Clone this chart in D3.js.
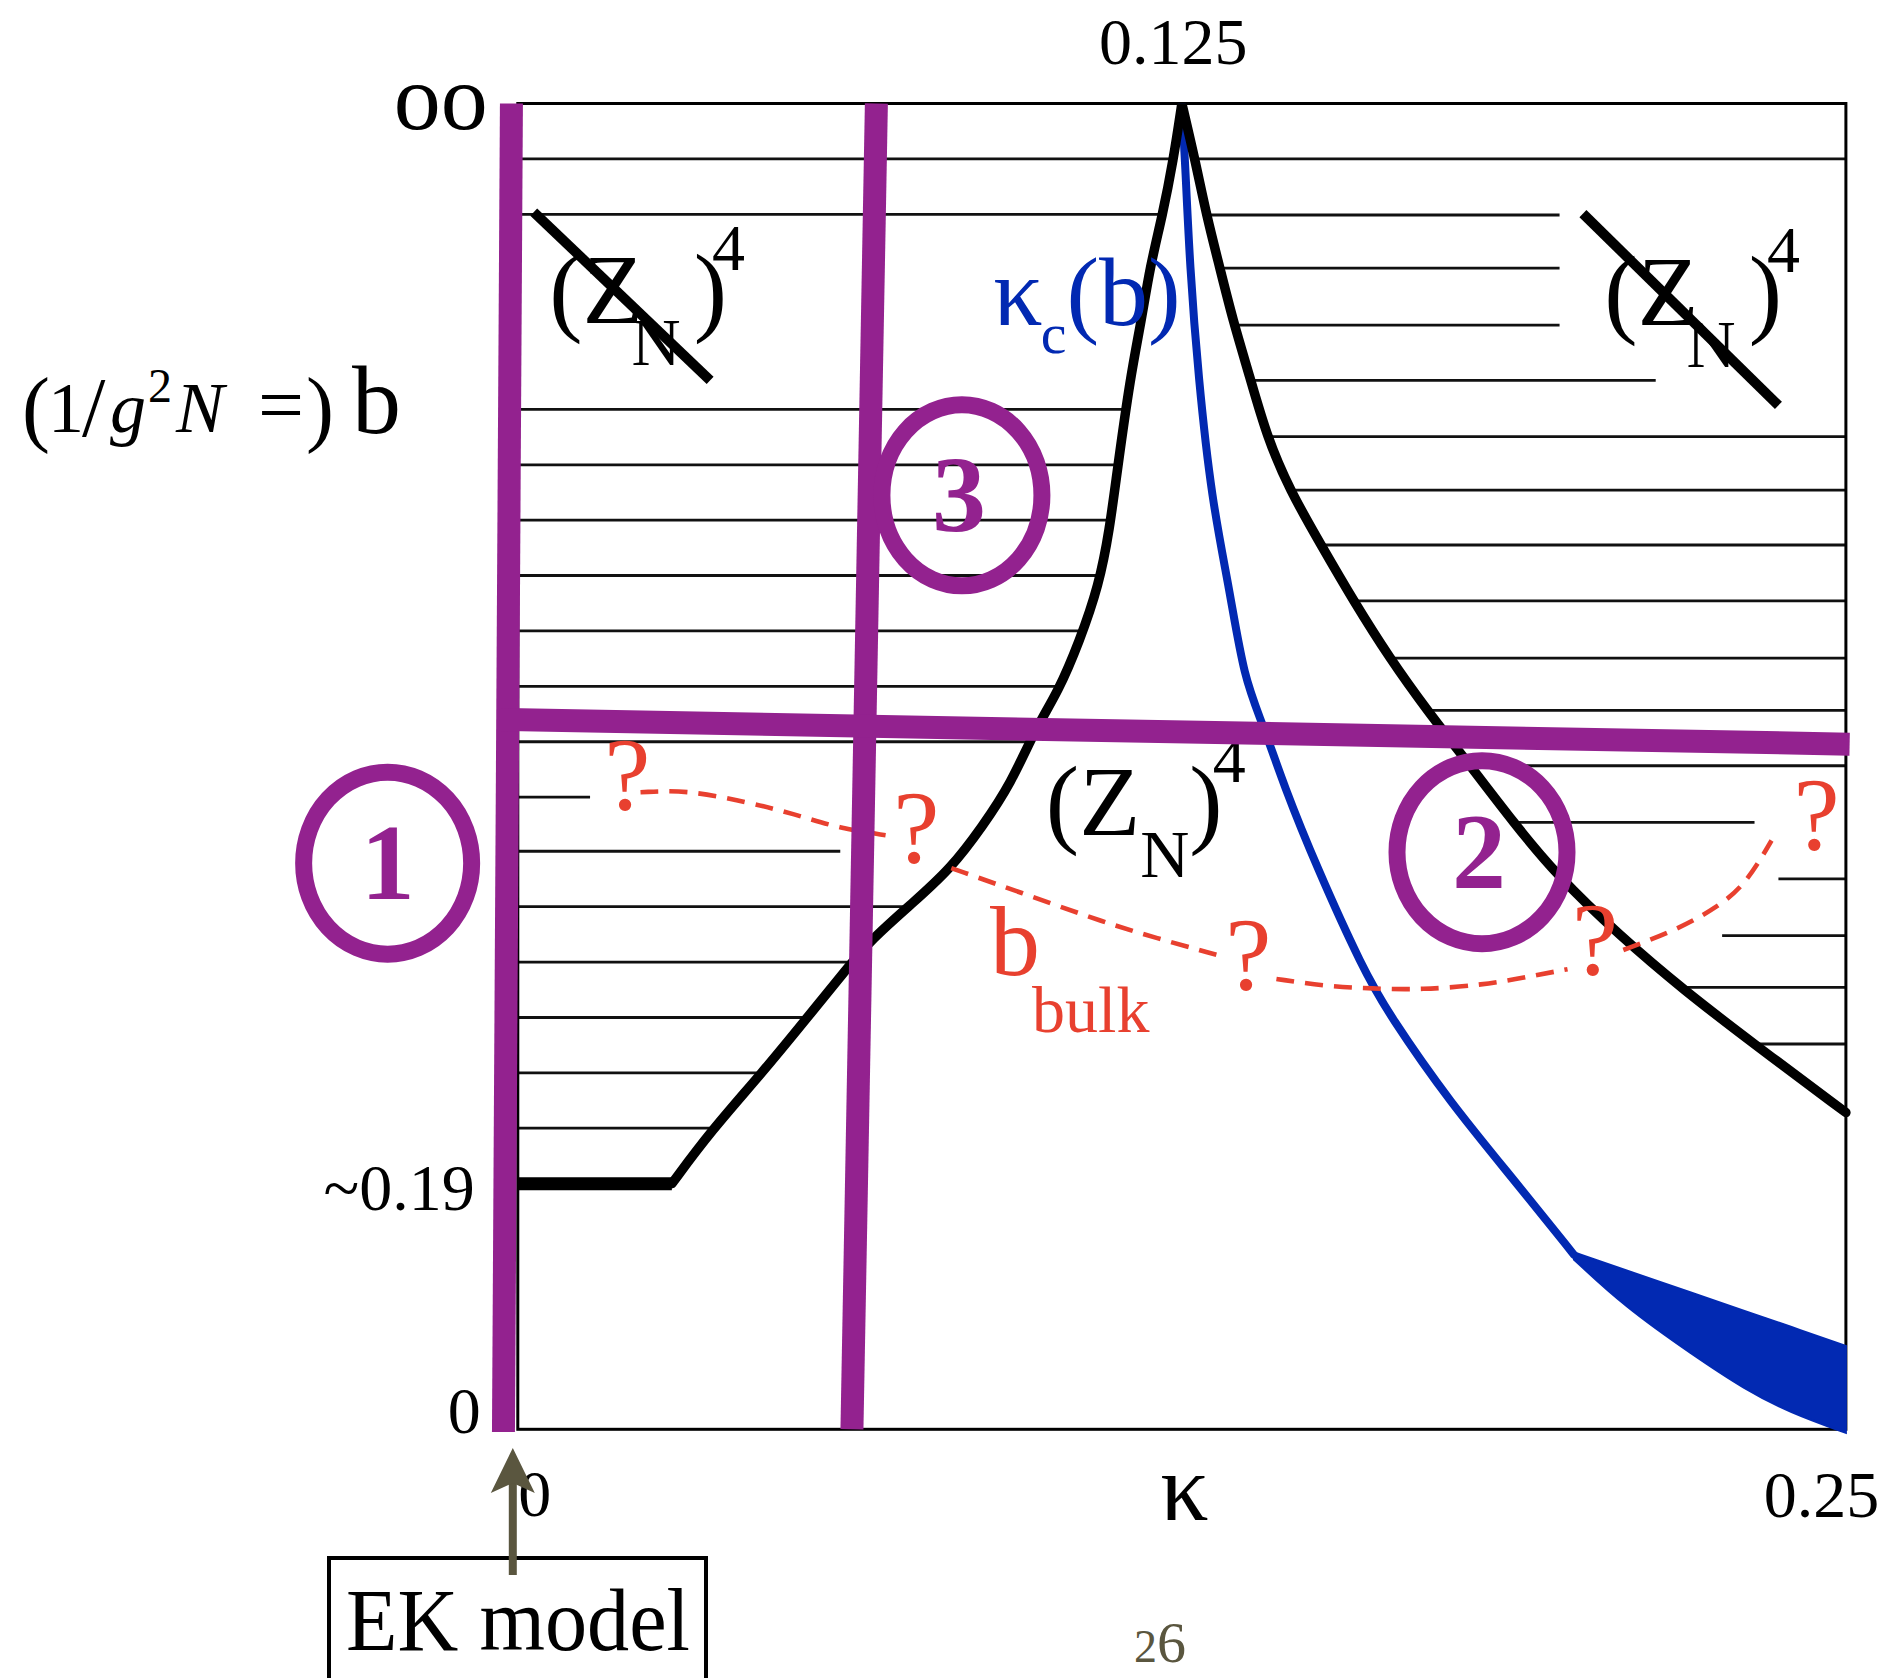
<!DOCTYPE html>
<html><head><meta charset="utf-8">
<script src="https://cdn.jsdelivr.net/npm/d3@7/dist/d3.min.js"></script>
<style>
html,body{margin:0;padding:0;background:#fff;}
svg{display:block;}
text{font-family:"Liberation Serif","Times New Roman",serif;}
</style></head>
<body>
<svg id="chart" width="1888" height="1678"></svg>
<script>
// ================= DATA (kappa, b) =================
const kappaTicks = [0, 0.125, 0.25];
const kappaTickLabels = ["0", "κ", "0.25"];
const kappaTopTicks = [0.125];
const kappaTopLabels = ["0.125"];
const bTicks = [0, 0.1853, 1];
const bTickLabels = ["0", "~0.19", "oo"];

// plateau of the left phase boundary (EK region)
const plateauK = [0, 0.0290];
const plateauB = [0.1853, 0.1853];

// left branch of the black phase boundary
const leftBranchK = [0.0290, 0.0364, 0.0458, 0.0546, 0.0620, 0.0666, 0.0741, 0.0815, 0.0875, 0.0928, 0.0976,
  0.1017, 0.1057, 0.1094, 0.1114, 0.1128, 0.1153, 0.1174, 0.1190, 0.1213, 0.1234, 0.125];
const leftBranchB = [0.1853, 0.2252, 0.2679, 0.3110, 0.3479, 0.3697, 0.3962, 0.4228, 0.4550, 0.4868, 0.5297,
  0.5562, 0.5940, 0.6367, 0.6789, 0.7221, 0.7938, 0.8365, 0.8769, 0.9146, 0.9573, 1.0];

// right branch of the black phase boundary
const rightBranchK = [0.125, 0.1275, 0.1297, 0.1321, 0.1346, 0.1378, 0.1410, 0.1453, 0.1512, 0.1573, 0.1641,
  0.1711, 0.1793, 0.1874, 0.1956, 0.2074, 0.2194, 0.2330, 0.25];
const rightBranchB = [1.0, 0.9573, 0.9146, 0.8769, 0.8365, 0.7938, 0.7487, 0.7084, 0.6670, 0.6249, 0.5817,
  0.5425, 0.5005, 0.4578, 0.4178, 0.3724, 0.3315, 0.2897, 0.2389];

// blue kappa_c(b) line
const kcK = [0.125, 0.1256, 0.1265, 0.1281, 0.1306, 0.1340, 0.1367, 0.1403, 0.1442, 0.1504, 0.1591, 0.1641, 0.1754, 0.1881, 0.1988];
const kcB = [1.0, 0.9573, 0.8769, 0.7938, 0.7012, 0.6331, 0.5662, 0.5316, 0.4855, 0.4239, 0.3470, 0.3123, 0.2469, 0.1853, 0.1317];

// blue uncertainty band at small b
const bandK = [0.1988, 0.2083, 0.2212, 0.2310, 0.2394, 0.25];
const bandUpper = [0.1335, 0.1204, 0.1026, 0.0892, 0.0777, 0.0629];
const bandLower = [0.1281, 0.0926, 0.0560, 0.0300, 0.0127, -0.0027];

// red dashed b_bulk line (null = gap at a "?")
const bulkK = [0.0231, 0.0317, 0.0431, 0.0521, 0.0605, 0.0698, null,
  0.0816, 0.0970, 0.1104, 0.1201, 0.1315, null,
  0.1428, 0.1519, 0.1609, 0.1700, 0.1818, 0.1904, 0.1976, null,
  0.2081, 0.2183, 0.2260, 0.2312, 0.2360];
const bulkB = [0.4805, 0.4823, 0.4732, 0.4641, 0.4532, 0.4478, null,
  0.4233, 0.4015, 0.3824, 0.3706, 0.3579, null,
  0.3397, 0.3342, 0.3324, 0.3315, 0.3351, 0.3415, 0.3470, null,
  0.3615, 0.3769, 0.3942, 0.4114, 0.4441];

// "?" marks along b_bulk
const questionK = [0.0206, 0.0750, 0.1375, 0.2028, 0.2445];
const questionB = [0.4670, 0.4270, 0.3312, 0.3425, 0.4368];

// hatching (left region: from kappa=0 to the boundary unless shortened)
const hatchLeftB  = [0.9582, 0.9164, 0.7693, 0.7275, 0.6857, 0.6440, 0.6022, 0.5604, 0.5186, 0.4768, 0.4360, 0.3942, 0.3524, 0.3106, 0.2688, 0.2271];
const hatchLeftTo = [0.125, 0.125, 0.125, 0.125, 0.125, 0.125, 0.125, 0.125, 0.125, 0.0136, 0.0607, 0.125, 0.125, 0.125, 0.125, 0.125];
// hatching (right region: from the boundary to kappa=0.25 unless shortened)
const hatchRightB    = [0.9582, 0.9159, 0.8759, 0.8329, 0.7911, 0.7487, 0.7084, 0.6670, 0.6249, 0.5817, 0.5422, 0.5005, 0.4578, 0.4151, 0.3724, 0.3333, 0.2906];
const hatchRightFrom = [0.125, 0.125, 0.125, 0.125, 0.125, 0.125, 0.125, 0.125, 0.125, 0.125, 0.125, 0.125, 0.125, 0.2373, 0.2267, 0.125, 0.125];
const hatchRightTo   = [0.25, 0.1961, 0.1961, 0.1961, 0.2142, 0.25, 0.25, 0.25, 0.25, 0.25, 0.25, 0.25, 0.2328, 0.25, 0.25, 0.25, 0.25];

// purple cuts through the phase diagram
const cut1K = [-0.0012, -0.0027], cut1B = [1.0, -0.002];
const cut3K = [0.0675, 0.0629],   cut3B = [1.0, 0.0];
const cut2K = [-0.0034, 0.2507],  cut2B = [0.5354, 0.5168];
// numbered circles
const circleLabels = ["1", "2", "3"];
const circleK = [-0.0245, 0.1815, 0.0836];
const circleB = [0.4270, 0.4353, 0.7045];
// crossed-out (Z_N)^4 strokes
const slashK0 = [0.0030, 0.2005], slashB0 = [0.9181, 0.9169];
const slashK1 = [0.0362, 0.2373], slashB1 = [0.7912, 0.7723];

// ================= DRAWING =================
const svg = d3.select("#chart");
const x = d3.scaleLinear().domain([0, 0.25]).range([517.8, 1845.9]);
const y = d3.scaleLinear().domain([0, 1]).range([1429.3, 103.5]);
const zip = (a, b) => a.map((v, i) => [v, b[i]]);
const PURPLE = "#93228f", BLUE = "#0229b2", RED = "#e8402f", OLIVE = "#5a563f";

const smooth = d3.line().x(d => x(d[0])).y(d => y(d[1])).curve(d3.curveBasis);
const straight = d3.line().x(d => x(d[0])).y(d => y(d[1]));

const leftPts = zip(leftBranchK, leftBranchB);
const rightPts = zip(rightBranchK, rightBranchB);

const defs = svg.append("defs");
defs.append("clipPath").attr("id", "clipLeft").append("path")
  .attr("d", `M${x(-0.01)},${y(plateauB[0])}L${x(plateauK[1])},${y(plateauB[1])}` +
    "L" + smooth(leftPts).slice(1) + `L${x(-0.01)},${y(1.01)}Z`);
defs.append("clipPath").attr("id", "clipRight").append("path")
  .attr("d", smooth(rightPts) + `L${x(0.26)},${y(rightBranchB[rightBranchB.length - 1])}L${x(0.26)},${y(1.01)}L${x(0.125)},${y(1.01)}Z`);
defs.append("clipPath").attr("id", "clipBox").append("rect")
  .attr("x", x(0) - 10).attr("y", y(1)).attr("width", x(0.25) - x(0) + 20).attr("height", y(0) - y(1) + 20);

// hatching
const gh = svg.append("g").attr("stroke", "#111").attr("stroke-width", 2.8);
gh.append("g").attr("clip-path", "url(#clipLeft)").selectAll("line")
  .data(hatchLeftB.map((b, i) => ({ b, k0: 0, k1: hatchLeftTo[i] })))
  .join("line").attr("x1", d => x(d.k0)).attr("x2", d => x(d.k1)).attr("y1", d => y(d.b)).attr("y2", d => y(d.b));
gh.append("g").attr("clip-path", "url(#clipRight)").selectAll("line")
  .data(hatchRightB.map((b, i) => ({ b, k0: hatchRightFrom[i], k1: hatchRightTo[i] })))
  .join("line").attr("x1", d => x(d.k0)).attr("x2", d => x(d.k1)).attr("y1", d => y(d.b)).attr("y2", d => y(d.b));

// frame
svg.append("rect").attr("x", x(0)).attr("y", y(1)).attr("width", x(0.25) - x(0)).attr("height", y(0) - y(1))
  .attr("fill", "none").attr("stroke", "#000").attr("stroke-width", 3);

// axes
const axB = svg.append("g").attr("transform", `translate(0,${y(0)})`)
  .call(d3.axisBottom(x).tickValues(kappaTicks).tickFormat((d, i) => kappaTickLabels[i]).tickSize(0));
const axT = svg.append("g").attr("transform", `translate(0,${y(1)})`)
  .call(d3.axisTop(x).tickValues(kappaTopTicks).tickFormat((d, i) => kappaTopLabels[i]).tickSize(0));
const axL = svg.append("g").attr("transform", `translate(${x(0)},0)`)
  .call(d3.axisLeft(y).tickValues(bTicks).tickFormat((d, i) => bTickLabels[i]).tickSize(0));
[axB, axT, axL].forEach(a => { a.select(".domain").remove(); a.selectAll("text").attr("fill", "#000").attr("font-family", null); });
const bottomLayout = [{ a: "start", dx: 0, yy: 87, fs: 66 }, { a: "middle", dx: 2, yy: 91, fs: 96 }, { a: "middle", dx: -25, yy: 88, fs: 66 }];
axB.selectAll(".tick text").each(function (d, i) {
  const L = bottomLayout[i];
  d3.select(this).attr("text-anchor", L.a).attr("x", L.dx).attr("y", L.yy).attr("dy", 0).attr("font-size", L.fs);
});
axT.selectAll(".tick text").attr("text-anchor", "middle").attr("x", -9).attr("y", -40).attr("dy", 0).attr("font-size", 66);
const leftLayout = [{ dx: -37, yy: 3, fs: 66 }, { dx: -30, yy: 26, fs: 66 }, { dx: -30, yy: 25, fs: 94 }];
axL.selectAll(".tick text").each(function (d, i) {
  const L = leftLayout[i];
  d3.select(this).attr("text-anchor", "end").attr("x", L.dx - (i === 1 ? 13 : 0)).attr("y", L.yy).attr("dy", 0).attr("font-size", L.fs);
});

// blue band + kappa_c line
svg.append("path").datum(bandK.map((k, i) => ({ k, lo: bandLower[i], hi: bandUpper[i] })))
  .attr("d", d3.area().x(d => x(d.k)).y0(d => y(d.lo)).y1(d => y(d.hi)).curve(d3.curveBasis))
  .attr("fill", BLUE).attr("stroke", BLUE).attr("stroke-width", 2);
svg.append("path").attr("d", smooth(zip(kcK, kcB))).attr("fill", "none").attr("stroke", BLUE)
  .attr("stroke-width", 8).attr("stroke-linejoin", "round").attr("stroke-linecap", "round").attr("clip-path", "url(#clipBox)");

// black phase boundary
const gb = svg.append("g").attr("clip-path", "url(#clipBox)").attr("fill", "none").attr("stroke", "#000");
gb.append("path").attr("d", straight(zip(plateauK, plateauB))).attr("stroke-width", 13);
gb.append("path").attr("d", smooth(leftPts)).attr("stroke-width", 9.5).attr("stroke-linecap", "round");
gb.append("path").attr("d", smooth(rightPts)).attr("stroke-width", 9.5).attr("stroke-linecap", "round");

// red dashed b_bulk
svg.append("path").datum(zip(bulkK, bulkB))
  .attr("d", d3.line().defined(d => d[0] !== null).x(d => x(d[0])).y(d => y(d[1])).curve(d3.curveBasis))
  .attr("fill", "none").attr("stroke", RED).attr("stroke-width", 4.6).attr("stroke-dasharray", "18,11");
svg.append("g").selectAll("text").data(zip(questionK, questionB)).join("text")
  .attr("x", d => x(d[0])).attr("y", d => y(d[1])).attr("text-anchor", "middle")
  .attr("font-size", 104).attr("fill", RED).text("?");
const bulkAnchor = [0.0889, 0.3425];
const tb = svg.append("text").attr("x", x(bulkAnchor[0])).attr("y", y(bulkAnchor[1])).attr("fill", RED).attr("font-size", 100);
tb.append("tspan").text("b");
tb.append("tspan").attr("font-size", 66).attr("dx", -8).attr("dy", 57).text("bulk");

// kappa_c(b) label
const kcAnchor = [0.0895, 0.8326];
const tk = svg.append("text").attr("x", x(kcAnchor[0])).attr("y", y(kcAnchor[1])).attr("fill", BLUE).attr("font-size", 98);
tk.append("tspan").text("κ");
tk.append("tspan").attr("font-size", 58).attr("dx", -2).attr("dy", 28).text("c");
tk.append("tspan").attr("dx", 0).attr("dy", -28).text("(b)");

// (Z_N)^4 labels
const znK = [0.0059, 0.2045, 0.0994];
const znB = [0.8342, 0.8326, 0.4481];
const znShift = [{ n: -12, p: 13, s: -15 }, { n: -12, p: 13, s: -15 }, { n: 0, p: 0, s: -10 }];
znK.forEach((k, i) => {
  const t = svg.append("text").attr("x", x(k)).attr("y", y(znB[i])).attr("font-size", 100).attr("fill", "#000");
  t.append("tspan").text("(Z");
  t.append("tspan").attr("font-size", 68).attr("dx", znShift[i].n).attr("dy", 42).text("N");
  t.append("tspan").attr("dx", znShift[i].p).attr("dy", -42).text(")");
  t.append("tspan").attr("font-size", 66).attr("dx", znShift[i].s).attr("dy", -53).text("4");
});
// slashes crossing out the broken-symmetry labels
svg.append("g").selectAll("line").data(slashK0.map((k, i) => i)).join("line")
  .attr("x1", i => x(slashK0[i])).attr("y1", i => y(slashB0[i]))
  .attr("x2", i => x(slashK1[i])).attr("y2", i => y(slashB1[i]))
  .attr("stroke", "#000").attr("stroke-width", 10);

// purple cuts
const gp = svg.append("g").attr("fill", "none").attr("stroke", PURPLE).attr("stroke-width", 23);
[[cut1K, cut1B], [cut3K, cut3B], [cut2K, cut2B]].forEach(c => gp.append("path").attr("d", straight(zip(c[0], c[1]))));
// numbered circles
const radii = [[84, 91], [85, 91.5], [80, 90.5]];
const gc = svg.append("g");
circleK.forEach((k, i) => {
  gc.append("ellipse").attr("cx", x(k)).attr("cy", y(circleB[i])).attr("rx", radii[i][0]).attr("ry", radii[i][1])
    .attr("fill", "none").attr("stroke", PURPLE).attr("stroke-width", 17);
  gc.append("text").attr("x", x(k) + (i === 0 ? 0 : -3)).attr("y", y(circleB[i]) + 36).attr("text-anchor", "middle")
    .attr("font-size", 108).attr("font-weight", "bold").attr("fill", PURPLE).text(circleLabels[i]);
});

// y-axis title: (1/g^2 N =) b
const ty = svg.append("text").attr("y", 432).attr("font-size", 72).attr("fill", "#000");
ty.append("tspan").attr("x", 22).attr("font-size", 84).attr("dy", 4).text("(");
ty.append("tspan").attr("x", 48).attr("dy", -4).text("1");
ty.append("tspan").attr("x", 82).attr("font-size", 84).attr("dy", 4).text("/");
ty.append("tspan").attr("x", 110).attr("dy", -4).attr("font-style", "italic").text("g");
ty.append("tspan").attr("x", 148).attr("font-size", 48).attr("dy", -30).text("2");
ty.append("tspan").attr("x", 176).attr("dy", 30).attr("font-style", "italic").text("N");
ty.append("tspan").attr("x", 258).attr("font-size", 80).attr("textLength", 46).attr("lengthAdjust", "spacingAndGlyphs").text("=");
ty.append("tspan").attr("x", 306).attr("font-size", 84).attr("dy", 4).text(")");
svg.append("text").attr("x", 352).attr("y", 433).attr("font-size", 98).attr("fill", "#000").text("b");

// EK model callout
svg.append("rect").attr("x", 329).attr("y", 1558).attr("width", 377).attr("height", 140)
  .attr("fill", "none").attr("stroke", "#000").attr("stroke-width", 4);
svg.append("text").attr("x", 346).attr("y", 1650).attr("font-size", 88).attr("fill", "#000")
  .attr("textLength", 344).attr("lengthAdjust", "spacingAndGlyphs").text("EK model");
const ax0 = x(0) - 5;
svg.append("line").attr("x1", ax0).attr("x2", ax0).attr("y1", 1575).attr("y2", 1482)
  .attr("stroke", OLIVE).attr("stroke-width", 8);
svg.append("path").attr("d", `M${ax0},1448L${ax0 - 22},1493L${ax0},1483L${ax0 + 22},1493Z`).attr("fill", OLIVE);

// slide number
const tn = svg.append("text").attr("x", 1134).attr("y", 1662).attr("fill", OLIVE).attr("font-size", 58);
tn.append("tspan").attr("font-size", 46).text("2");
tn.append("tspan").text("6");
</script>
</body></html>
